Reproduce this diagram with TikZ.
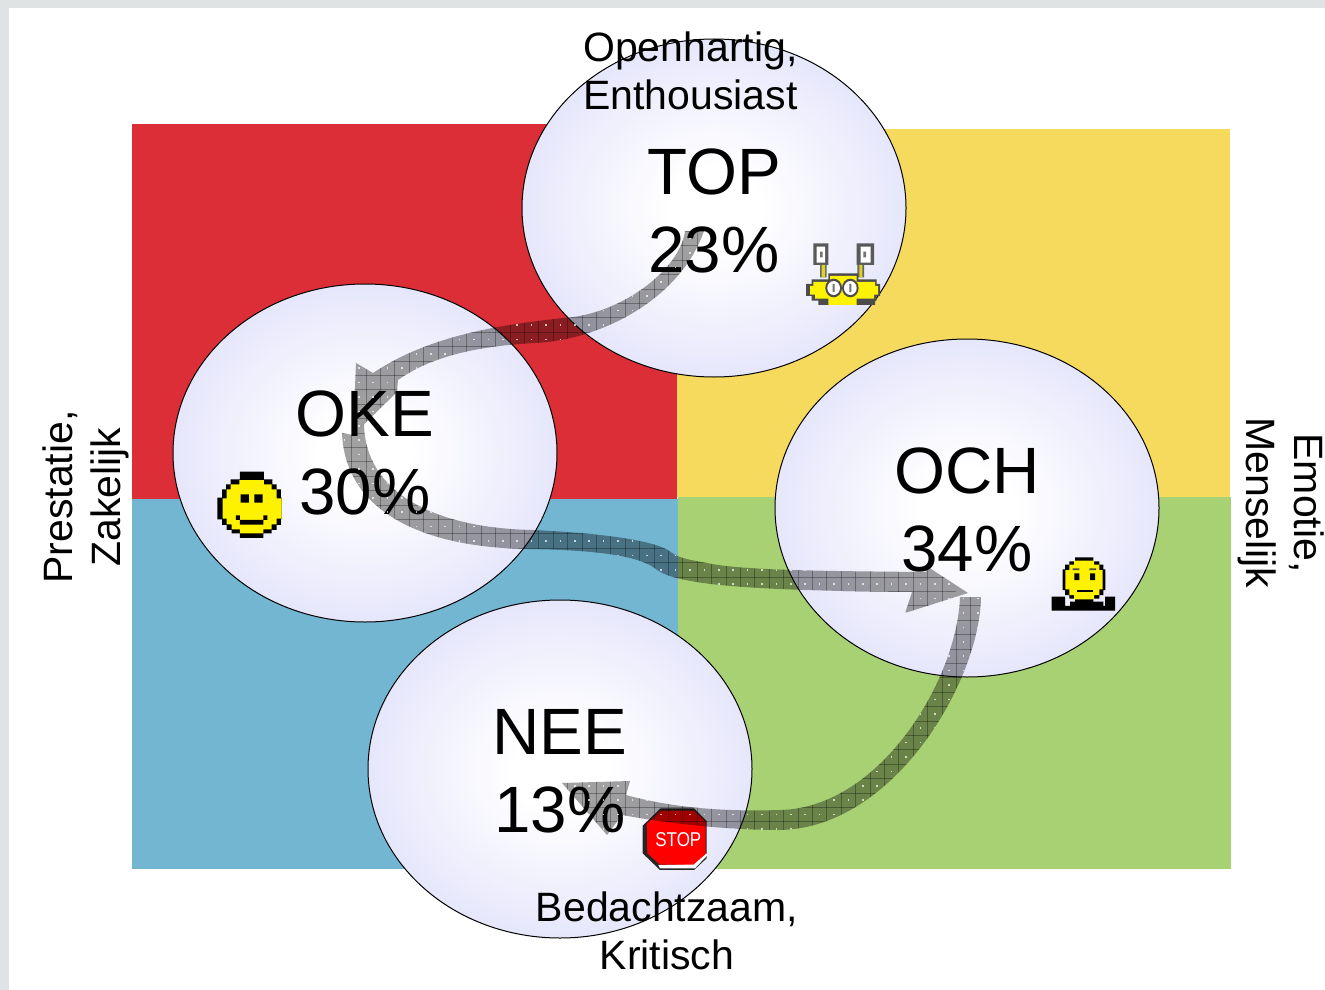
\documentclass[tikz,border=0pt]{standalone}
\usepackage{fontspec}
\setmainfont{Liberation Sans}
\usetikzlibrary{shapes.geometric}
\definecolor{qred}{HTML}{DC2E36}
\definecolor{qyellow}{HTML}{F6DA5E}
\definecolor{qblue}{HTML}{73B6D2}
\definecolor{qgreen}{HTML}{A8D174}
\definecolor{edgegrey}{HTML}{DFE3E3}
\definecolor{ballrim}{HTML}{E0E0FB}
\pgfdeclareradialshading{ballglow}{\pgfpoint{0bp}{0bp}}{color(0bp)=(white);color(6bp)=(white);color(30bp)=(ballrim);color(100bp)=(ballrim)}
\newcommand{\lead}[1]{\rule{0pt}{#1pt}}
\tikzset{
  quad/.style={fill=#1,draw=none},
  ball/.style={ellipse,draw=black,line width=1pt,shading=ballglow,minimum width=384pt,minimum height=338pt,inner sep=0pt,align=center,font=\fontsize{65.5}{78}\selectfont},
  lab/.style={inner sep=0pt,font=\fontsize{41}{48.5}\selectfont},
  ico/.style={x=0.3333pt,y=-0.3333pt},
  gridln/.style={draw=black,draw opacity=.3,line width=.8pt},
}
\def\arrowA#1{\path[#1] (a1s) .. controls (680,270) and (620,315) .. (563,318) .. controls (500,325) and (430,335) .. (373,373) -- (356,363) -- (a1t) -- (397,392) -- (398,380) .. controls (440,350) and (500,345) .. (535,343) .. controls (600,340) and (680,300) .. (704,231) -- cycle;}
\def\arrowB#1{\path[#1] (a2s) .. controls (345,510) and (420,548) .. (530,549) .. controls (590,550) and (635,555) .. (653,567) .. controls (662,574) and (670,578) .. (703,583) .. controls (740,588) and (800,591) .. (912,592) -- (905,613) -- (a2t) -- (928,567) -- (926,572) .. controls (810,571) and (740,570) .. (707,563) .. controls (685,559) and (678,558) .. (668,550) .. controls (650,540) and (600,533) .. (533,530) .. controls (430,528) and (365,490) .. (364,424) -- (a1t) -- cycle;}
\def\arrowC#1{\path[#1] (a3s) .. controls (980,680) and (895,828) .. (780,830) .. controls (720,830) and (660,822) .. (622,815) -- (607,835) -- (a3t) -- (630,781) -- (626,795) .. controls (670,807) and (720,812) .. (780,810) .. controls (880,808) and (957,680) .. (960,597) -- cycle;}
\newcommand{\gridover}[4]{%
  \foreach \i in {#1,...,#2} {\draw[gridln] ({6+14.4*\i},#3*14.4) -- ({6+14.4*\i},#4*14.4);}
  \foreach \j in {#3,...,#4} {\draw[gridln] ({#1*14.4},{1+14.4*\j}) -- ({#2*14.4+20},{1+14.4*\j});}
  \foreach \i in {#1,...,#2} {\foreach \j in {#3,...,#4} {\fill[white,fill opacity=.7] ({13.2+14.4*\i-.8},{8.2+14.4*\j-.8}) rectangle ++(1.6,1.6);}}
}
\begin{document}
\begin{tikzpicture}[x=1pt,y=-1pt]
\useasboundingbox (0,0) rectangle (1325,990);
\fill[white] (0,0) rectangle (1325,990);
\fill[edgegrey] (0,0) rectangle (1325,8);
\fill[edgegrey] (0,0) rectangle (9,990);
% quadrants
\fill[quad=qred] (132,124) rectangle (677,499);
\fill[quad=qyellow] (677,129) rectangle (1230,497);
\fill[quad=qblue] (132,499) rectangle (678,869);
\fill[quad=qgreen] (678,497) rectangle (1231,869);
% balls
\node[ball] (top) at (714,208) {\lead{52}TOP\\23\%};
\node[ball] (oke) at (365,453) {\lead{46}OKE\\30\%};
\node[ball] (och) at (967,508) {\lead{50}OCH\\34\%};
\node[ball] (nee) at (560,769) {\lead{50}NEE\\13\%};
% crab
\begin{scope}[shift={(780,220)},ico]
  \fill[black!65] (100,70) rectangle (145,135) (230,70) rectangle (282,135);
  \fill[white] (110,80) rectangle (135,128) (242,80) rectangle (272,128);
  \fill[black!55] (120,95) rectangle (128,112) (250,95) rectangle (258,112);
  \fill[black!60] (120,135) rectangle (140,172) (232,135) rectangle (252,172);
  \fill[yellow!85!black] (125,135) rectangle (135,172) (238,135) rectangle (247,172);
  \fill[black!70] (145,160) rectangle (235,185) (95,178) rectangle (290,195) (78,192) rectangle (300,228) (95,225) rectangle (290,242) (115,240) rectangle (285,255);
  \fill[yellow] (150,168) rectangle (230,190) (100,186) rectangle (285,200) (90,198) rectangle (294,224) (105,222) rectangle (282,236) (145,236) rectangle (230,255);
  \fill[black!70] (161,204) ellipse (25 and 28) (211,204) ellipse (25 and 28);
  \fill[white] (161,204) ellipse (19 and 21) (211,204) ellipse (19 and 21);
  \fill[black!55] (158,192) rectangle (164,216) (208,192) rectangle (214,216);
\end{scope}
% happy face
\begin{scope}[shift={(200,450)},ico]
  \fill[black] (120,65) rectangle (192,90) (92,88) rectangle (217,105) (78,103) rectangle (230,120) (66,118) rectangle (243,145) (52,143) rectangle (245,208) (66,206) rectangle (243,225) (80,223) rectangle (230,240) (95,238) rectangle (215,250) (120,248) rectangle (190,264);
  \fill[yellow] (118,90) rectangle (192,103) (92,103) rectangle (215,118) (80,118) rectangle (230,145) (68,145) rectangle (245,206) (80,206) rectangle (230,223) (95,223) rectangle (215,238) (120,238) rectangle (190,250);
  \fill[black] (122,133) rectangle (147,158) (163,133) rectangle (188,158);
  \fill[black] (108,196) rectangle (120,210) (190,196) rectangle (202,210) (120,210) rectangle (190,224);
\end{scope}
% worried person
\begin{scope}[shift={(1030,540)},ico]
  \fill[black] (65,170) rectangle (105,212) (225,170) rectangle (255,212) (120,185) rectangle (220,212) (65,198) rectangle (255,212);
  \fill[black] (135,52) rectangle (190,66) (118,64) rectangle (208,76) (105,74) rectangle (220,90) (98,88) rectangle (226,150) (105,148) rectangle (220,165) (118,163) rectangle (208,176) (135,174) rectangle (190,187);
  \fill[yellow] (132,62) rectangle (192,76) (118,74) rectangle (208,90) (106,90) rectangle (218,148) (118,148) rectangle (208,165) (132,165) rectangle (192,178);
  \fill[black!70] (128,85) rectangle (148,90) (178,85) rectangle (198,90);
  \fill[black] (133,100) rectangle (148,120) (180,100) rectangle (195,120);
  \fill[black] (140,150) rectangle (188,156);
\end{scope}
% stop sign
\begin{scope}[shift={(540,760)},ico]
  \fill[black!85] (362,145) -- (462,145) -- (500,183) -- (500,295) -- (462,330) -- (360,330) -- (308,280) -- (308,197) -- cycle;
  \fill[white] (503,285) -- (465,325) -- (360,325) -- (355,315) -- (460,312) -- (498,280) -- cycle;
  \fill[red] (362,152) -- (462,152) -- (497,185) -- (497,282) -- (460,314) -- (360,314) -- (322,280) -- (320,192) -- cycle;
  \node[inner sep=0pt,text=white,xscale=.85,font=\fontsize{20}{22}\selectfont] (stoptext) at (415,240) {STOP};
\end{scope}
% arrow anchors
\coordinate (a1s) at (685,231);
\coordinate (a1t) at (353,435);
\coordinate (a2s) at (342,433);
\coordinate (a2t) at (968,593);
\coordinate (a3s) at (981,597);
\coordinate (a3t) at (562,783);
% arrows
\arrowA{fill=black,fill opacity=.37}
\begin{scope}\arrowA{clip}\gridover{23}{49}{15}{31}\end{scope}
\arrowB{fill=black,fill opacity=.37}
\begin{scope}\arrowB{clip}\gridover{23}{65}{28}{43}\end{scope}
\arrowC{fill=black,fill opacity=.37}
\begin{scope}\arrowC{clip}\gridover{38}{68}{41}{58}\end{scope}
% labels
\node[lab,align=left,anchor=west] (open) at (583,71) {Openhartig,\\Enthousiast};
\node[lab,align=center] (beda) at (667,931) {Bedachtzaam,\\Kritisch};
\node[lab,align=center,rotate=90] (pres) at (86,497) {Prestatie,\\Zakelijk};
\node[lab,align=center,rotate=-90] (emot) at (1281,503) {Emotie,\\Menselijk};
\end{tikzpicture}
\end{document}
